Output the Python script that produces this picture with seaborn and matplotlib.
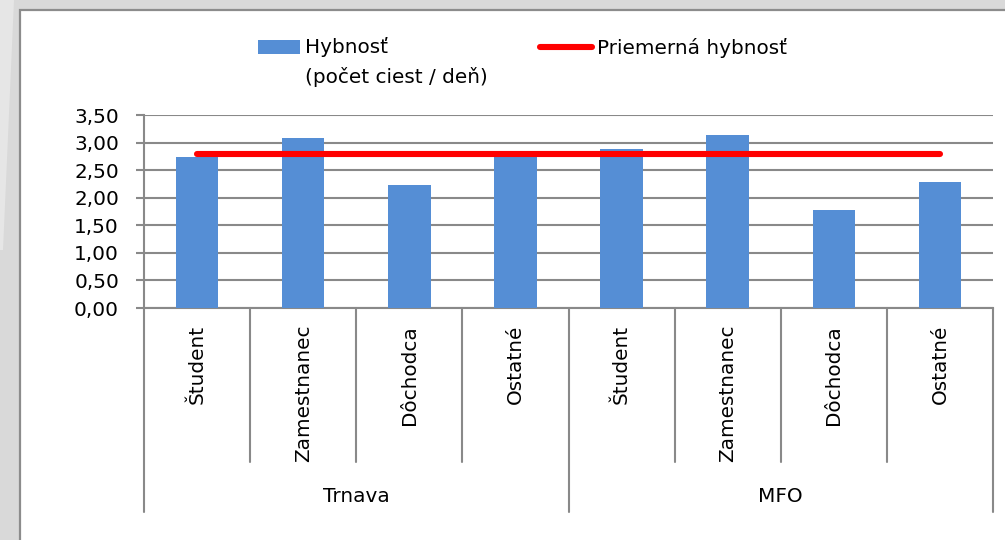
import numpy as np
import pandas as pd
import matplotlib
matplotlib.use("Agg")
import matplotlib.pyplot as plt
import seaborn as sns
from matplotlib.patches import Rectangle, Polygon
from matplotlib.transforms import blended_transform_factory, Affine2D

# ---- data ----
groups = ["Trnava", "Trnava", "Trnava", "Trnava", "MFO", "MFO", "MFO", "MFO"]
categories = ["Študent", "Zamestnanec", "Dôchodca", "Ostatné",
              "Študent", "Zamestnanec", "Dôchodca", "Ostatné"]
hybnost = [2.73, 3.08, 2.23, 2.78, 2.88, 3.13, 1.78, 2.29]
priemer = [2.79, 2.79, 2.79, 2.79, 2.79, 2.79, 2.79, 2.79]
group_names = ["Trnava", "MFO"]
yticks = [0.0, 0.5, 1.0, 1.5, 2.0, 2.5, 3.0, 3.5]
label_bar = "Hybnosť\n(počet ciest / deň)"
label_line = "Priemerná hybnosť"

# ---- style ----
sns.set_style("white")
plt.rcParams["font.family"] = ["DejaVu Sans"]
FS = 14.4
GRAY = "#898989"
BLUE = "#558ed5"
RED = "#ff0000"

W, H = 1005, 540
fig = plt.figure(figsize=(W / 100, H / 100), dpi=100)
fig.patch.set_facecolor("#d9d9d9")
# slide background decoration + white chart panel
fig.patches.append(Polygon([(0, 1), (14 / W, 1), (3 / W, 1 - 250 / H), (0, 1 - 250 / H)],
                           closed=True, transform=fig.transFigure,
                           facecolor="#e6e6e6", edgecolor="none", zorder=-3))
fig.patches.append(Rectangle((19.5 / W, -0.05), 1.0, 1 - 9.5 / H + 0.05,
                             transform=fig.transFigure, facecolor="white",
                             edgecolor="#8c8c8c", linewidth=1.6, zorder=-2))

ax = fig.add_axes([144 / W, (H - 308) / H, (993 - 144) / W, 193 / H])
ax.set_facecolor("none")

df = pd.DataFrame({
    "key": [f"{g}|{c}" for g, c in zip(groups, categories)],
    "value": hybnost,
})
sns.barplot(data=df, x="key", y="value", color=BLUE, saturation=1,
            width=0.4, ax=ax, zorder=3, errorbar=None, linewidth=0)
bars = ax.containers[0]
sns.lineplot(x=np.arange(len(priemer)), y=priemer, color=RED, linewidth=4.4,
             ax=ax, zorder=4, legend=False)
avg_line = ax.lines[-1]
avg_line.set_solid_capstyle("round")

ax.set_ylim(0, 3.5)
ax.set_yticks(yticks)
ax.set_yticklabels([f"{v:.2f}".replace(".", ",") for v in yticks])
ax.set_xlabel("")
ax.set_ylabel("")
ax.set_xticks([])

ax.yaxis.grid(True, color=GRAY, linewidth=1.5)
ax.set_axisbelow(True)
for s in ["top", "right"]:
    ax.spines[s].set_visible(False)
for s in ["left", "bottom"]:
    ax.spines[s].set_color(GRAY)
    ax.spines[s].set_linewidth(1.5)
ax.tick_params(axis="y", length=6, width=1.5, color=GRAY, pad=12,
               labelsize=FS, labelcolor="black", left=True)

# hierarchical category axis
tr = blended_transform_factory(ax.transData, ax.transAxes)
n = len(hybnost)
for i in range(n + 1):
    x = i - 0.5
    long = (i == 0) or (i == n) or (groups[i] != groups[i - 1])
    ybot = -(512 - 308) / 193 if long else -(462 - 308) / 193
    ax.plot([x, x], [0, ybot], color=GRAY, linewidth=1.5, transform=tr,
            clip_on=False, zorder=2)
for i, c in enumerate(categories):
    ax.text(i, -(325 - 308) / 193, c, rotation=90, ha="center", va="top",
            fontsize=FS, color="black", transform=tr)
for g in group_names:
    idx = [i for i, gg in enumerate(groups) if gg == g]
    xc = (idx[0] + idx[-1]) / 2
    ax.text(xc, -(497 - 308) / 193, g, ha="center", va="center",
            fontsize=FS, color="black", transform=tr)

ax.set_xlim(-0.5, n - 0.5)

# legend (entries aligned on the first text line, as in the source)
leg = fig.legend([bars, avg_line], [label_bar, label_line + "\n"], loc="upper left",
                 bbox_to_anchor=(248 / W, 1 - 37 / H), ncol=2, frameon=False,
                 fontsize=FS, handlelength=2.6, handletextpad=0.25,
                 columnspacing=2.6, borderpad=0, borderaxespad=0)
for t in leg.get_texts():
    t.set_linespacing(1.6)
    t.set_color("black")
dy = 10.8  # points: half a line step, moves handles up to the first line
patch_h, line_h = leg.legend_handles
# bar handle: narrower than the line handle, right-aligned, ~14 px tall
w0 = patch_h.get_width()
patch_h.set_x(patch_h.get_x() + w0 * 10 / 52)
patch_h.set_width(w0 * 42 / 52)
patch_h.set_y(patch_h.get_y() + patch_h.get_height() / 2 - 5.0)
patch_h.set_height(10.0)
patch_h.set_transform(Affine2D().translate(0, dy) + patch_h.get_data_transform())
line_h.set_transform(Affine2D().translate(0, dy) + line_h.get_transform())

fig.savefig("out.png", dpi=100, facecolor=fig.get_facecolor())
